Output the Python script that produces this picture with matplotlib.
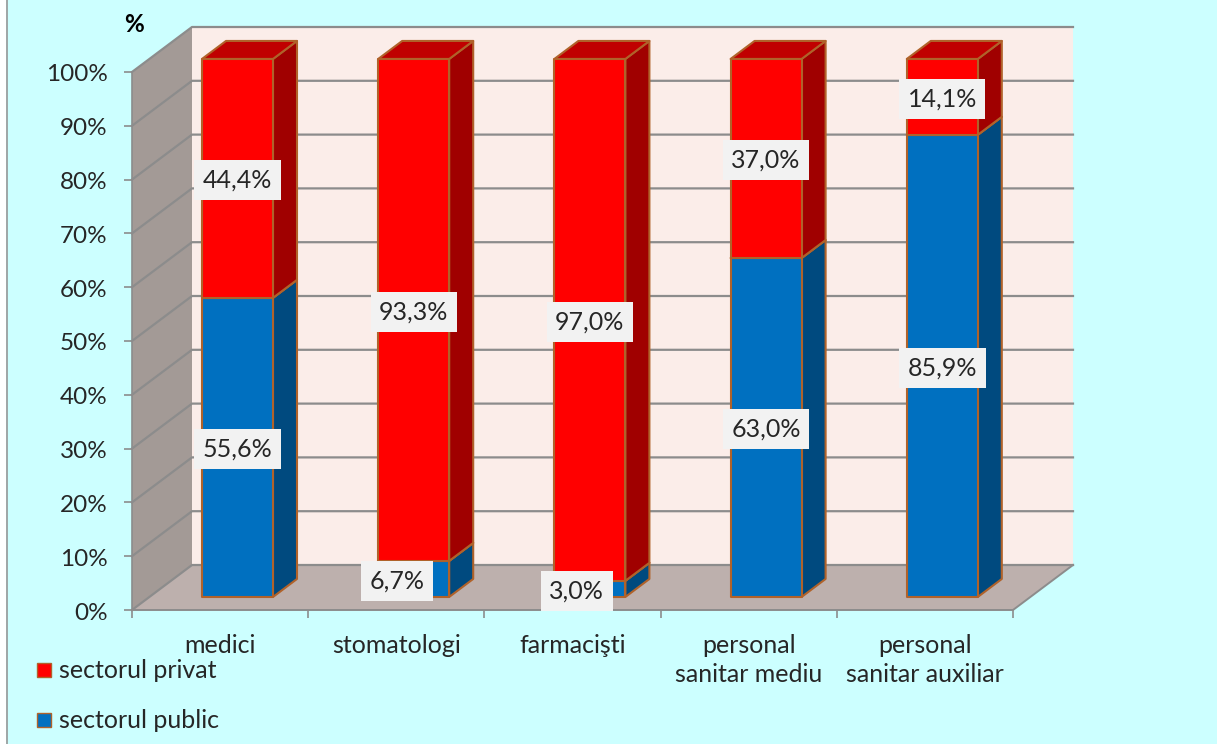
import matplotlib
matplotlib.use("Agg")
import matplotlib.pyplot as plt
from matplotlib.patches import Polygon, Rectangle
from matplotlib.transforms import ScaledTranslation

categories = ["medici", "stomatologi", "farmacişti",
              "personal\nsanitar mediu", "personal\nsanitar auxiliar"]
public_values = [55.6, 6.7, 3.0, 63.0, 85.9]
private_values = [44.4, 93.3, 97.0, 37.0, 14.1]
public_labels = ["55,6%", "6,7%", "3,0%", "63,0%", "85,9%"]
private_labels = ["44,4%", "93,3%", "97,0%", "37,0%", "14,1%"]
y_ticks = [0, 10, 20, 30, 40, 50, 60, 70, 80, 90, 100]

BG = "#CCFFFF"
WALL_BACK = "#FBEDE9"
WALL_SIDE = "#A39A96"
FLOOR = "#BDB0AD"
GRID = "#8C8C8C"
EDGE = "#B0622A"
RED = ("#FF0000", "#A00000", "#C00000")
BLUE = ("#0070C0", "#004A7F", "#005A9A")
FONT = "Lato"
W, H = 1217, 744

# the depth of the 3d box, in data units (px / px per unit)
PX_X = 176.2
PX_Y = 5.38
DX = 60 / PX_X
DY = 45 / PX_Y


def shift(x, y, depth):
    """Move a point from the front plane to a depth between 0 and 1."""
    return x + DX * depth, y + DY * depth


def quad(ax, points, color, edge="none", lw=0.0, z=2):
    ax.add_patch(Polygon(points, closed=True, facecolor=color, edgecolor=edge,
                         linewidth=lw, clip_on=False, zorder=z, joinstyle="round"))


def draw_box(ax, x0, x1, y0, y1, colors, z):
    d0 = 0.29
    d1 = 0.69
    front = [shift(x0, y0, d0), shift(x1, y0, d0), shift(x1, y1, d0), shift(x0, y1, d0)]
    side = [shift(x1, y0, d0), shift(x1, y0, d1), shift(x1, y1, d1), shift(x1, y1, d0)]
    top = [shift(x0, y1, d0), shift(x1, y1, d0), shift(x1, y1, d1), shift(x0, y1, d1)]
    quad(ax, side, colors[1], EDGE, 1.5, z)
    quad(ax, top, colors[2], EDGE, 1.5, z)
    quad(ax, front, colors[0], EDGE, 1.5, z)


fig = plt.figure(figsize=(W / 100, H / 100), dpi=100, facecolor=BG)
plt.rcParams["font.family"] = [FONT, "DejaVu Sans"]

# white strip and thin frame on the left of the screenshot
fig.add_artist(Rectangle((0, 0), 6.5 / W, 1, transform=fig.transFigure,
                         facecolor="white", edgecolor="none"))
fig.add_artist(Rectangle((6 / W, 0), 1.5 / W, 1, transform=fig.transFigure,
                         facecolor="#A0A8A8", edgecolor="none"))

ax = fig.add_axes([132 / W, (H - 610) / H, 881 / W, 538 / H])
ax.set_xlim(0, 5)
ax.set_ylim(0, 100)
ax.patch.set_visible(False)
for spine in ax.spines.values():
    spine.set_visible(False)

# walls and floor
quad(ax, [shift(0, 0, 1), shift(5, 0, 1), shift(5, 100, 1), shift(0, 100, 1)], WALL_BACK, z=0)
quad(ax, [shift(0, 0, 0), shift(0, 0, 1), shift(0, 100, 1), shift(0, 100, 0)], WALL_SIDE, z=0)
quad(ax, [shift(0, 0, 0), shift(5, 0, 0), shift(5, 0, 1), shift(0, 0, 1)], FLOOR, z=0)

# gridlines along side wall and back wall
for tick in y_ticks:
    xs = [shift(0, tick, 0)[0], shift(0, tick, 1)[0], shift(5, tick, 1)[0]]
    ys = [shift(0, tick, 0)[1], shift(0, tick, 1)[1], shift(5, tick, 1)[1]]
    ax.plot(xs, ys, color=GRID, lw=1.6, clip_on=False, zorder=1)
ax.plot([0, 0], [0, 100], color=GRID, lw=1.2, clip_on=False, zorder=1)
ax.plot([0, 5, shift(5, 0, 1)[0]], [0, 0, shift(5, 0, 1)[1]], color=GRID, lw=1.4,
        clip_on=False, zorder=1)

# bars, public at the bottom and private on top
bar_width = 0.403
for i in range(len(categories)):
    x0 = i + 0.5 - bar_width / 2
    x1 = i + 0.5 + bar_width / 2
    z = 3 + i
    draw_box(ax, x0, x1, 0, public_values[i], BLUE, z)
    draw_box(ax, x0, x1, public_values[i], public_values[i] + private_values[i], RED, z)

# value labels, the two small segments sit left of the bar
label_shift = [0, -17, -13, 0, 0]
for i in range(len(categories)):
    cx, _ = shift(i + 0.5, 0, 0.29)
    cy_pub = shift(0, public_values[i] / 2, 0.29)[1]
    cy_priv = shift(0, public_values[i] + private_values[i] / 2, 0.29)[1]
    for y, text, off in ((cy_pub, public_labels[i], label_shift[i]),
                         (cy_priv, private_labels[i], 0)):
        ax.annotate(text, (cx, y), xytext=(off * 0.72, -1.4), textcoords="offset points",
                    ha="center", va="center", fontsize=18, color="#262626", zorder=20,
                    annotation_clip=False,
                    bbox=dict(boxstyle="square,pad=0.34", facecolor="#F2F2F2", edgecolor="none"))

# axis ticks and labels
ax.set_yticks(y_ticks)
ax.set_yticklabels([f"{t}%" for t in y_ticks], fontsize=17.5, color="#262626")
ax.set_xticks(range(6))
ax.set_xticklabels([""] * 6)
ax.tick_params(axis="both", color=GRID, width=1.2, length=6, pad=11.5)
down = ScaledTranslation(0, -1 / 100, fig.dpi_scale_trans)
for lab in ax.get_yticklabels():
    lab.set_transform(lab.get_transform() + down)
for i, name in enumerate(categories):
    ax.annotate(name, (i + 0.5, 0), xytext=(0, -17), textcoords="offset points",
                ha="center", va="top", fontsize=18, color="#262626", linespacing=1.35,
                annotation_clip=False)

fig.text(134 / W, 1 - 25 / H, "%", fontsize=17.5, fontweight="bold", color="black",
         ha="center", va="center")

# legend drawn by hand to keep the wide spacing
for py, color, label in ((670, RED[0], "sectorul privat"), (720, BLUE[0], "sectorul public")):
    fig.add_artist(Rectangle((37 / W, 1 - (py + 7) / H), 14 / W, 14 / H, transform=fig.transFigure,
                             facecolor=color, edgecolor=EDGE, linewidth=1))
    fig.text(59 / W, 1 - py / H, label, fontsize=18, color="#262626", ha="left", va="center")

fig.savefig("out.png", dpi=100, facecolor=BG)
